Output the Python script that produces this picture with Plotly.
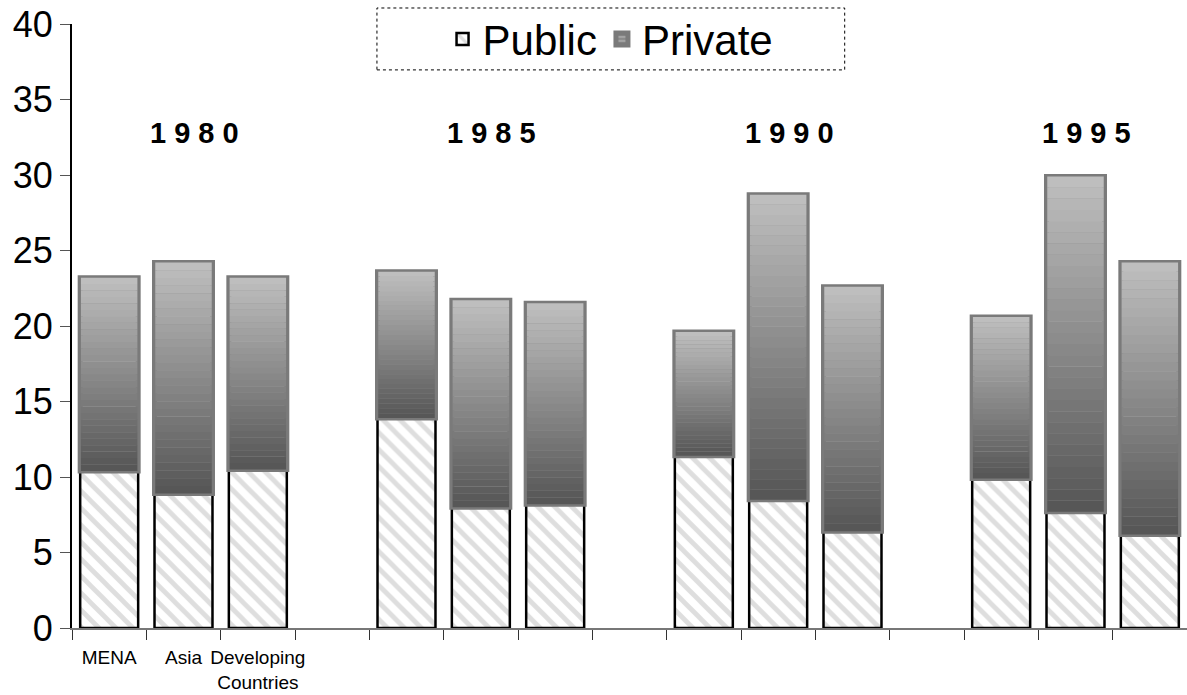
import plotly.graph_objects as go

# ---- data ----
years = ["1980", "1985", "1990", "1995"]
regions = ["MENA", "Asia", "Developing<br>Countries"]
public = {
    "1980": [10.4, 8.9, 10.5],
    "1985": [13.9, 8.0, 8.2],
    "1990": [11.4, 8.5, 6.4],
    "1995": [9.9, 7.7, 6.2],
}
private = {
    "1980": [12.8, 15.3, 12.7],
    "1985": [9.7, 13.7, 13.3],
    "1990": [8.2, 20.2, 16.2],
    "1995": [10.7, 22.2, 18.0],
}
year_labels = ["1 9 8 0", "1 9 8 5", "1 9 9 0", "1 9 9 5"]
y_ticks = [0, 5, 10, 15, 20, 25, 30, 35, 40]

# ---- build category slots (3 bars + 1 gap per year) ----
cats, tick_text = [], []
xs, pub_vals, priv_vals = [], [], []
for gi, yr in enumerate(years):
    for ri, reg in enumerate(regions):
        c = f"{yr}-{ri}"
        cats.append(c)
        tick_text.append(reg if gi == 0 else "")
        xs.append(c)
        pub_vals.append(public[yr][ri])
        priv_vals.append(private[yr][ri])
    if gi < len(years) - 1:
        c = f"gap-{gi}"
        cats.append(c)
        tick_text.append("")

FONT = "Liberation Sans, Arial, sans-serif"
W = 0.78

fig = go.Figure()

# Public
fig.add_trace(go.Bar(
    x=xs, y=pub_vals, base=[0] * len(xs), width=W, name="Public",
    marker=dict(color="white", line=dict(color="black", width=2.5),
                pattern=dict(shape="\\", fgcolor="#bdbdbd", bgcolor="white",
                             size=12, solidity=0.4)),
))

# Private outline (also carries the legend entry)
fig.add_trace(go.Bar(
    x=xs, y=priv_vals, base=pub_vals, width=W, name="Private",
    marker=dict(color="#9a9a9a", line=dict(color="#7a7a7a", width=5),
                pattern=dict(shape="-", fgcolor="#e0e0e0", bgcolor="#8a8a8a",
                             size=5, solidity=0.3)),
))

# Private gradient (dark at bottom -> light at top), split into slices of each value
N = 30
dark, light = 0x57, 0xbe
for k in range(N):
    g = int(dark + (light - dark) * k / (N - 1))
    col = f"rgb({g},{g},{g})"
    fig.add_trace(go.Bar(
        x=xs, y=[p / N for p in priv_vals],
        base=[b + p * k / N for b, p in zip(pub_vals, priv_vals)],
        width=W - 0.02, showlegend=False, hoverinfo="skip",
        marker=dict(color=col, line=dict(width=0)),
    ))

# year annotations over the middle bar of each group
for gi, yr in enumerate(years):
    fig.add_annotation(
        x=f"{yr}-1", y=32.8, text=f"<b>{year_labels[gi]}</b>", showarrow=False,
        xshift=11, font=dict(family=FONT, size=29, color="black"),
    )

# dotted legend frame
fig.add_shape(type="rect", xref="paper", yref="paper",
              x0=0.2735, x1=0.693, y0=0.924, y1=1.0265,
              line=dict(color="black", width=1, dash="dot"), layer="above")

fig.update_layout(
    width=1187, height=695,
    margin=dict(l=72, r=0, t=24, b=67, autoexpand=False),
    paper_bgcolor="white", plot_bgcolor="white",
    barmode="overlay",
    font=dict(family=FONT, color="black"),
    showlegend=True,
    legend=dict(orientation="h", x=0.483, xanchor="center", y=0.975,
                yanchor="middle", font=dict(family=FONT, size=42),
                bgcolor="rgba(0,0,0,0)", itemwidth=30),
    xaxis=dict(type="category", categoryorder="array", categoryarray=cats,
               tickmode="array", tickvals=cats, ticktext=tick_text,
               tickson="boundaries", ticks="outside", ticklen=10,
               tickcolor="#333", showline=True, linecolor="#777", linewidth=2,
               range=[-0.5, len(cats) - 0.5], tickfont=dict(size=19),
               tickangle=0, automargin=False, ticklabelstandoff=11,
               showgrid=False, zeroline=False),
    yaxis=dict(range=[0, 40], tickvals=y_ticks, ticks="outside", ticklen=10,
               tickcolor="#555", showline=True, linecolor="black", linewidth=2,
               tickfont=dict(size=36), showgrid=False, zeroline=False,
               automargin=False),
)

fig.write_html("out.html")
